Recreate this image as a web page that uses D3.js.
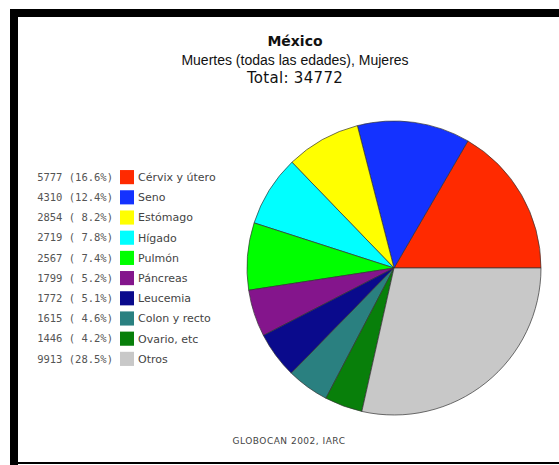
<!DOCTYPE html>
<html lang="es">
<head>
<meta charset="utf-8">
<title>México - Muertes, Mujeres</title>
<script src="https://d3js.org/d3.v7.min.js"></script>
<style>
  body { margin: 0; background: #fff; }
  svg { display: block; }
</style>
</head>
<body>
<div id="chart"></div>
<script>
// data
const sites = ["Cérvix y útero", "Seno", "Estómago", "Hígado", "Pulmón", "Páncreas", "Leucemia", "Colon y recto", "Ovario, etc", "Otros"];
const deaths = [5777, 4310, 2854, 2719, 2567, 1799, 1772, 1615, 1446, 9913];
const colors = ["#ff2a00", "#1432ff", "#ffff00", "#00ffff", "#00ff00", "#84158c", "#0a0a8c", "#2a8080", "#087f0a", "#c8c8c8"];

const W = 559, H = 465;
const total = d3.sum(deaths);
const data = sites.map((s, i) => ({ site: s, value: deaths[i], color: colors[i] }));

const svg = d3.select("#chart").append("svg")
    .attr("width", W)
    .attr("height", H);

// black frame (left + top band, thin bottom line)
svg.append("rect").attr("x", 10).attr("y", 9).attr("width", W - 10).attr("height", 8).attr("fill", "#000");
svg.append("rect").attr("x", 10).attr("y", 9).attr("width", 8).attr("height", 456).attr("fill", "#000");
svg.append("rect").attr("x", 10).attr("y", 462).attr("width", W - 10).attr("height", 2).attr("fill", "#000");

// titles
const cx = 295;
svg.append("text").attr("x", cx).attr("y", 46).attr("text-anchor", "middle")
    .style("font", "bold 14px 'DejaVu Sans', sans-serif").attr("fill", "#111").text("México");
svg.append("text").attr("x", cx).attr("y", 65).attr("text-anchor", "middle")
    .style("font", "14px 'Liberation Sans', Arial, sans-serif").attr("fill", "#111").text("Muertes (todas las edades), Mujeres");
svg.append("text").attr("x", cx).attr("y", 83).attr("text-anchor", "middle")
    .style("font", "15px 'DejaVu Sans', sans-serif").style("letter-spacing", "0.3px")
    .attr("fill", "#111").text("Total: " + total);

// pie, starting at 3 o'clock and running counter-clockwise
const pie = d3.pie().sort(null).value(d => d.value)
    .startAngle(Math.PI / 2).endAngle(Math.PI / 2 - 2 * Math.PI);
const arc = d3.arc().innerRadius(0).outerRadius(147);

const g = svg.append("g").attr("transform", "translate(394,268)");
g.selectAll("path")
    .data(pie(data))
    .enter()
    .append("path")
    .attr("d", arc)
    .attr("fill", d => d.data.color)
    .attr("stroke", "#333")
    .attr("stroke-width", 0.7);

// legend
const y = d3.scaleBand().domain(sites).range([164, 372]).padding(0.3);
const fmt = d3.format(".1f");
const legend = svg.append("g");

const rows = legend.selectAll("g")
    .data(data)
    .enter()
    .append("g")
    .attr("transform", d => `translate(0,${y(d.site)})`);

rows.append("rect")
    .attr("x", 120)
    .attr("width", 14)
    .attr("height", y.bandwidth())
    .attr("fill", d => d.color);

rows.append("text")
    .attr("x", 113)
    .attr("y", y.bandwidth() / 2)
    .attr("dy", "0.35em")
    .attr("text-anchor", "end")
    .attr("xml:space", "preserve")
    .style("font", "10.5px 'DejaVu Sans Mono', monospace")
    .attr("fill", "#555")
    .text(d => {
        const p = fmt(d.value / total * 100);
        return `${d.value} (${p.length < 4 ? " " + p : p}%)`;
    });

rows.append("text")
    .attr("x", 138)
    .attr("y", y.bandwidth() / 2)
    .attr("dy", "0.35em")
    .style("font", "11px 'DejaVu Sans', sans-serif")
    .attr("fill", "#444")
    .text(d => d.site);

// source
svg.append("text").attr("x", 289).attr("y", 444).attr("text-anchor", "middle")
    .style("font", "9px 'DejaVu Sans', sans-serif").style("letter-spacing", "0.5px")
    .attr("fill", "#444").text("GLOBOCAN 2002, IARC");
</script>
</body>
</html>
